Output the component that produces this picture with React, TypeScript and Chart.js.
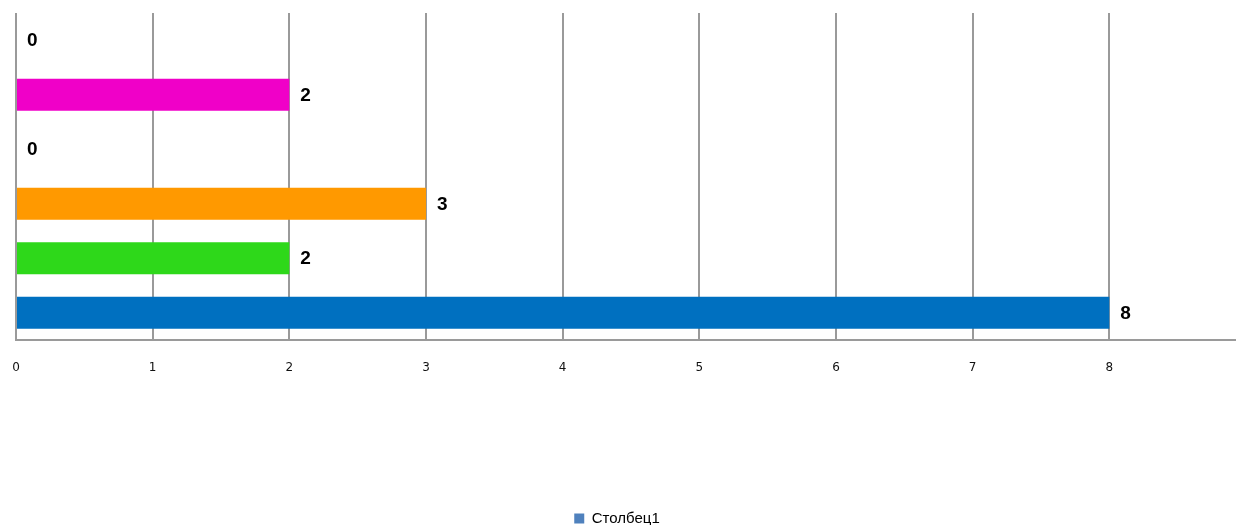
import React, { useEffect, useRef } from "react";
import { Chart, registerables } from "chart.js";

Chart.register(...registerables);

const categories = ["6", "5", "4", "3", "2", "1"];
const values = [8, 2, 3, 0, 2, 0];
const barColors = ["#0070c0", "#2ed81a", "#ff9900", "#b4dcef", "#f000c8", "#2aa8e0"];
const seriesName = "Столбец1";
const legendColor = "#4f81bd";
const xTicks = [0, 1, 2, 3, 4, 5, 6, 7, 8, 9];

const valueLabels = {
  id: "valueLabels",
  afterLayout(chart: any) {
    if (chart.legend) {
      chart.legend.left -= 14;
      chart.legend.right -= 14;
    }
  },
  afterDatasetsDraw(chart: any) {
    const ctx = chart.ctx;
    const meta = chart.getDatasetMeta(0);
    ctx.save();
    ctx.font = "bold 19px 'Liberation Sans', Arial, sans-serif";
    ctx.fillStyle = "#000";
    ctx.textAlign = "left";
    ctx.textBaseline = "middle";
    meta.data.forEach((bar: any, i: number) => {
      const v = chart.data.datasets[0].data[i];
      const x = chart.scales.x.getPixelForValue(v);
      ctx.fillText(String(v), x + 11, bar.y + 1);
    });
    ctx.restore();
  },
};

export default function App() {
  const ref = useRef<HTMLCanvasElement>(null);
  useEffect(() => {
    document.documentElement.style.overflow = "hidden";
    document.body.style.overflow = "hidden";
    const chart = new Chart(ref.current!, {
      type: "bar",
      data: {
        labels: categories,
        datasets: [
          {
            label: seriesName,
            data: values,
            backgroundColor: barColors,
            barPercentage: 0.59,
            categoryPercentage: 1,
            minBarLength: 1,
          },
        ],
      },
      options: {
        indexAxis: "y",
        animation: false,
        responsive: false,
        maintainAspectRatio: false,
        layout: { padding: { top: 5, left: 8, right: 10, bottom: 0 } },
        scales: {
          x: {
            min: 0,
            max: 9,
            afterBuildTicks: (scale: any) => {
              scale.ticks = xTicks.map((v) => ({ value: v }));
            },
            grid: {
              color: "#9a9a9a",
              lineWidth: 2,
              drawTicks: true,
              tickLength: 20,
              tickColor: "rgba(0,0,0,0)",
            },
            border: { color: "#9a9a9a", width: 2 },
            ticks: {
              padding: 1,
              color: "#111",
              font: { family: "'DejaVu Sans', sans-serif", size: 12 },
            },
            afterFit: (scale: any) => {
              scale.height = 161;
            },
          },
          y: {
            display: false,
            reverse: true,
          },
        },
        plugins: {
          tooltip: { enabled: false },
          legend: {
            position: "bottom",
            labels: {
              boxWidth: 10,
              boxHeight: 10,
              padding: 10,
              color: "#111",
              font: { family: "'Liberation Sans', Arial, sans-serif", size: 15 },
              generateLabels: () => [
                {
                  text: seriesName,
                  fillStyle: legendColor,
                  strokeStyle: legendColor,
                  lineWidth: 0,
                  hidden: false,
                  datasetIndex: 0,
                },
              ],
            },
          },
        },
      },
      plugins: [valueLabels],
    });
    return () => chart.destroy();
  }, []);
  return (
    <div style={{ width: 1248, height: 528 }}>
      <canvas ref={ref} width={1248} height={528} style={{ display: "block" }} />
    </div>
  );
}
